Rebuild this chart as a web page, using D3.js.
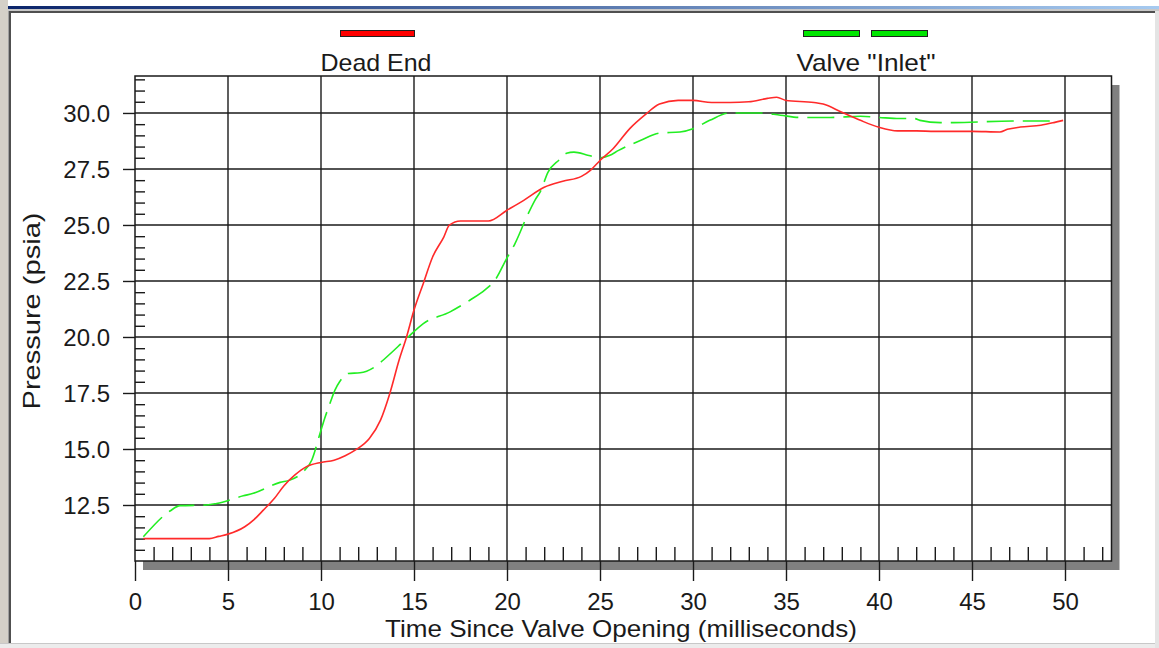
<!DOCTYPE html>
<html>
<head>
<meta charset="utf-8">
<script src="https://cdn.jsdelivr.net/npm/d3@7"></script>
<style>
  html, body { margin: 0; padding: 0; background: #ffffff; }
  svg { display: block; font-family: "Liberation Sans", Arial, sans-serif; }
</style>
</head>
<body>
<svg id="chart" width="1159" height="648"></svg>
<script>
// Pressure traces after valve opening
const deadEndTime = [0.45, 1, 2, 3, 4.0, 4.5, 5.0, 5.9, 6.4, 6.9, 7.5, 8.0, 8.6, 9.2, 10.0, 10.7, 11.3, 11.9, 12.6, 13.2, 13.7, 14.2, 14.6, 15.0, 15.5, 16.0, 16.6, 16.9, 17.5, 19.0, 20.0, 20.9, 22.0, 23.0, 24.0, 24.5, 25.0, 25.7, 26.6, 27.4, 28.2, 29.2, 30.0, 31.0, 32.0, 33.0, 34.0, 34.5, 35.0, 36.5, 37.0, 38.0, 39.0, 40.0, 41.0, 42.0, 43.0, 44.0, 45.0, 46.5, 46.9, 47.6, 48.7, 49.4, 49.9];
const deadEndPressure = [11.0, 11.0, 11.0, 11.0, 11.0, 11.1, 11.2, 11.53, 11.85, 12.27, 12.8, 13.35, 13.84, 14.2, 14.4, 14.5, 14.7, 14.98, 15.47, 16.29, 17.48, 18.97, 20.0, 21.2, 22.39, 23.57, 24.46, 24.99, 25.18, 25.18, 25.66, 26.1, 26.68, 26.95, 27.17, 27.45, 27.88, 28.4, 29.3, 29.9, 30.4, 30.56, 30.56, 30.47, 30.47, 30.5, 30.65, 30.7, 30.56, 30.47, 30.4, 30.03, 29.67, 29.36, 29.2, 29.2, 29.18, 29.18, 29.18, 29.15, 29.27, 29.37, 29.45, 29.57, 29.67];

const inletTime = [0.45, 1.88, 2.42, 3.85, 4.39, 5.82, 6.36, 7.8, 8.33, 9.0, 9.5, 9.95, 10.2, 10.48, 10.75, 11.0, 11.47, 12.1, 12.9, 13.44, 14.6, 15.5, 16.94, 17.47, 18.0, 18.8, 19.35, 19.98, 20.43, 21.06, 21.5, 21.8, 22.2, 22.8, 23.2, 23.6, 24.4, 25.0, 25.5, 26.0, 27.2, 28.2, 29.3, 30.0, 30.9, 32.0, 33.6, 34.7, 35.75, 37.4, 39.0, 40.0, 41.1, 41.9, 42.2, 43.3, 44.0, 47.2, 49.4];
const inletPressure = [11.08, 12.23, 12.47, 12.5, 12.57, 12.91, 13.02, 13.51, 13.61, 13.95, 14.5, 15.7, 16.37, 17.03, 17.63, 18.0, 18.37, 18.4, 18.67, 19.04, 19.93, 20.6, 21.12, 21.37, 21.64, 22.09, 22.53, 23.5, 24.17, 25.36, 26.1, 26.5, 27.35, 27.9, 28.2, 28.25, 28.1, 28.0, 28.1, 28.33, 28.78, 29.1, 29.15, 29.3, 29.67, 30.0, 30.0, 29.9, 29.8, 29.8, 29.85, 29.8, 29.75, 29.75, 29.67, 29.57, 29.57, 29.64, 29.64];

const xTickValues = [0, 5, 10, 15, 20, 25, 30, 35, 40, 45, 50];
const yTickValues = [12.5, 15.0, 17.5, 20.0, 22.5, 25.0, 27.5, 30.0];
const seriesNames = ["Dead End", "Valve \"Inlet\""];
const xTitle = "Time Since Valve Opening (milliseconds)";
const yTitle = "Pressure (psia)";

const svg = d3.select("#chart");
const W = 1159, H = 648;
const plot = { left: 135, top: 76, right: 1111.5, bottom: 561 };

const x = d3.scaleLinear().domain([0, 52.5]).range([plot.left, plot.right]);
const y = d3.scaleLinear().domain([10, 31.65]).range([plot.bottom, plot.top]);

// window frame
const defs = svg.append("defs");
const grad = defs.append("linearGradient").attr("id", "titlebar");
grad.append("stop").attr("offset", "0%").attr("stop-color", "#0a246a");
grad.append("stop").attr("offset", "100%").attr("stop-color", "#a6caf0");
svg.append("rect").attr("x", 0).attr("y", 0).attr("width", W).attr("height", H).attr("fill", "#ffffff");
svg.append("rect").attr("x", 0).attr("y", 6).attr("width", W).attr("height", 3).attr("fill", "url(#titlebar)");
svg.append("rect").attr("x", 0).attr("y", 9).attr("width", W).attr("height", 2).attr("fill", "#c8c8c8");
svg.append("rect").attr("x", 9).attr("y", 11).attr("width", W - 9).attr("height", 2).attr("fill", "#505050");
svg.append("rect").attr("x", 0).attr("y", 0).attr("width", 8).attr("height", H).attr("fill", "#d4d0c8");
svg.append("rect").attr("x", 8).attr("y", 11).attr("width", 1).attr("height", H).attr("fill", "#a0a0a0");
svg.append("rect").attr("x", 9).attr("y", 11).attr("width", 2).attr("height", H).attr("fill", "#505050");
svg.append("rect").attr("x", 0).attr("y", 643).attr("width", W).attr("height", 5).attr("fill", "#ececec");
svg.append("rect").attr("x", 0).attr("y", 643).attr("width", W).attr("height", 1).attr("fill", "#c8c8c8");
svg.append("rect").attr("x", 1155).attr("y", 11).attr("width", 4).attr("height", H).attr("fill", "#e4e4e4");

// drop shadow and plot area
svg.append("rect")
  .attr("x", plot.left + 8).attr("y", plot.top + 9)
  .attr("width", plot.right - plot.left).attr("height", plot.bottom - plot.top)
  .attr("fill", "#808080");
svg.append("rect")
  .attr("x", plot.left).attr("y", plot.top)
  .attr("width", plot.right - plot.left).attr("height", plot.bottom - plot.top)
  .attr("fill", "#ffffff");

// grid
const grid = svg.append("g").attr("stroke", "#1a1a1a").attr("stroke-width", 1.4);
grid.selectAll("line.vx").data(xTickValues.filter(v => v > 0)).join("line")
  .attr("x1", d => x(d)).attr("x2", d => x(d))
  .attr("y1", plot.top).attr("y2", plot.bottom);
grid.selectAll("line.hy").data(yTickValues).join("line")
  .attr("x1", plot.left).attr("x2", plot.right)
  .attr("y1", d => y(d)).attr("y2", d => y(d));

// minor ticks
const xMinor = d3.range(1, 53).filter(v => v % 5 !== 0);
const yMinor = d3.range(10.5, 31.6, 0.5).filter(v => Math.abs(v / 2.5 - Math.round(v / 2.5)) > 1e-6);

const xMinorAxis = svg.append("g").attr("transform", `translate(0,${plot.bottom})`)
  .call(d3.axisBottom(x).tickValues(xMinor).tickSize(-14).tickFormat(""));
const yMinorAxis = svg.append("g").attr("transform", `translate(${plot.left},0)`)
  .call(d3.axisLeft(y).tickValues(yMinor).tickSize(-10).tickFormat(""));
[xMinorAxis, yMinorAxis].forEach(g => {
  g.select(".domain").remove();
  g.selectAll("line").attr("stroke", "#1a1a1a").attr("stroke-width", 1.4);
});

// major axes
const xAxis = svg.append("g").attr("transform", `translate(0,${plot.bottom})`)
  .call(d3.axisBottom(x).tickValues(xTickValues).tickSize(20).tickPadding(12).tickFormat(d3.format("d")));
const yAxis = svg.append("g").attr("transform", `translate(${plot.left},0)`)
  .call(d3.axisLeft(y).tickValues(yTickValues).tickSize(12).tickPadding(13).tickFormat(d3.format(".1f")));
[xAxis, yAxis].forEach(g => {
  g.select(".domain").remove();
  g.selectAll("line").attr("stroke", "#1a1a1a").attr("stroke-width", 1.4);
  g.selectAll("text").attr("fill", "#1a1a1a").attr("font-size", 24)
    .attr("font-family", "'Liberation Sans', Arial, sans-serif");
});
yAxis.selectAll("text").attr("dy", "0.37em");

// plot border
svg.append("rect")
  .attr("x", plot.left).attr("y", plot.top)
  .attr("width", plot.right - plot.left).attr("height", plot.bottom - plot.top)
  .attr("fill", "none").attr("stroke", "#1a1a1a").attr("stroke-width", 1.5);

// series
const line = d3.line().x(d => x(d[0])).y(d => y(d[1])).curve(d3.curveMonotoneX);
const deadEnd = deadEndTime.map((t, i) => [t, deadEndPressure[i]]);
const inlet = inletTime.map((t, i) => [t, inletPressure[i]]);

svg.append("path").datum(inlet)
  .attr("d", line).attr("fill", "none")
  .attr("stroke", "#22ee22").attr("stroke-width", 1.6)
  .attr("stroke-dasharray", "27,9");
svg.append("path").datum(deadEnd)
  .attr("d", line).attr("fill", "none")
  .attr("stroke", "#ff2a2a").attr("stroke-width", 1.6);

// legend
const legend = svg.append("g");
legend.append("rect").attr("x", 340.5).attr("y", 30.5).attr("width", 74).attr("height", 6)
  .attr("fill", "#ff0000").attr("stroke", "#202020").attr("stroke-width", 1);
legend.selectAll("rect.g").data([803.5, 871.5]).join("rect")
  .attr("x", d => d).attr("y", 30.5).attr("width", 56).attr("height", 6)
  .attr("fill", "#00e600").attr("stroke", "#202020").attr("stroke-width", 1);
legend.append("text").attr("x", 376).attr("y", 70.5).attr("text-anchor", "middle")
  .attr("font-size", 24).attr("fill", "#1a1a1a")
  .attr("textLength", 111).attr("lengthAdjust", "spacingAndGlyphs")
  .text(seriesNames[0]);
legend.append("text").attr("x", 866).attr("y", 70.5).attr("text-anchor", "middle")
  .attr("font-size", 24).attr("fill", "#1a1a1a")
  .attr("textLength", 139).attr("lengthAdjust", "spacingAndGlyphs")
  .text(seriesNames[1]);

// axis titles
svg.append("text").attr("x", 621).attr("y", 637).attr("text-anchor", "middle")
  .attr("font-size", 24).attr("fill", "#1a1a1a")
  .attr("textLength", 472).attr("lengthAdjust", "spacingAndGlyphs")
  .text(xTitle);
svg.append("text")
  .attr("transform", "translate(40,311) rotate(-90)")
  .attr("text-anchor", "middle")
  .attr("font-size", 24).attr("fill", "#1a1a1a")
  .attr("textLength", 197).attr("lengthAdjust", "spacingAndGlyphs")
  .text(yTitle);
</script>
</body>
</html>
